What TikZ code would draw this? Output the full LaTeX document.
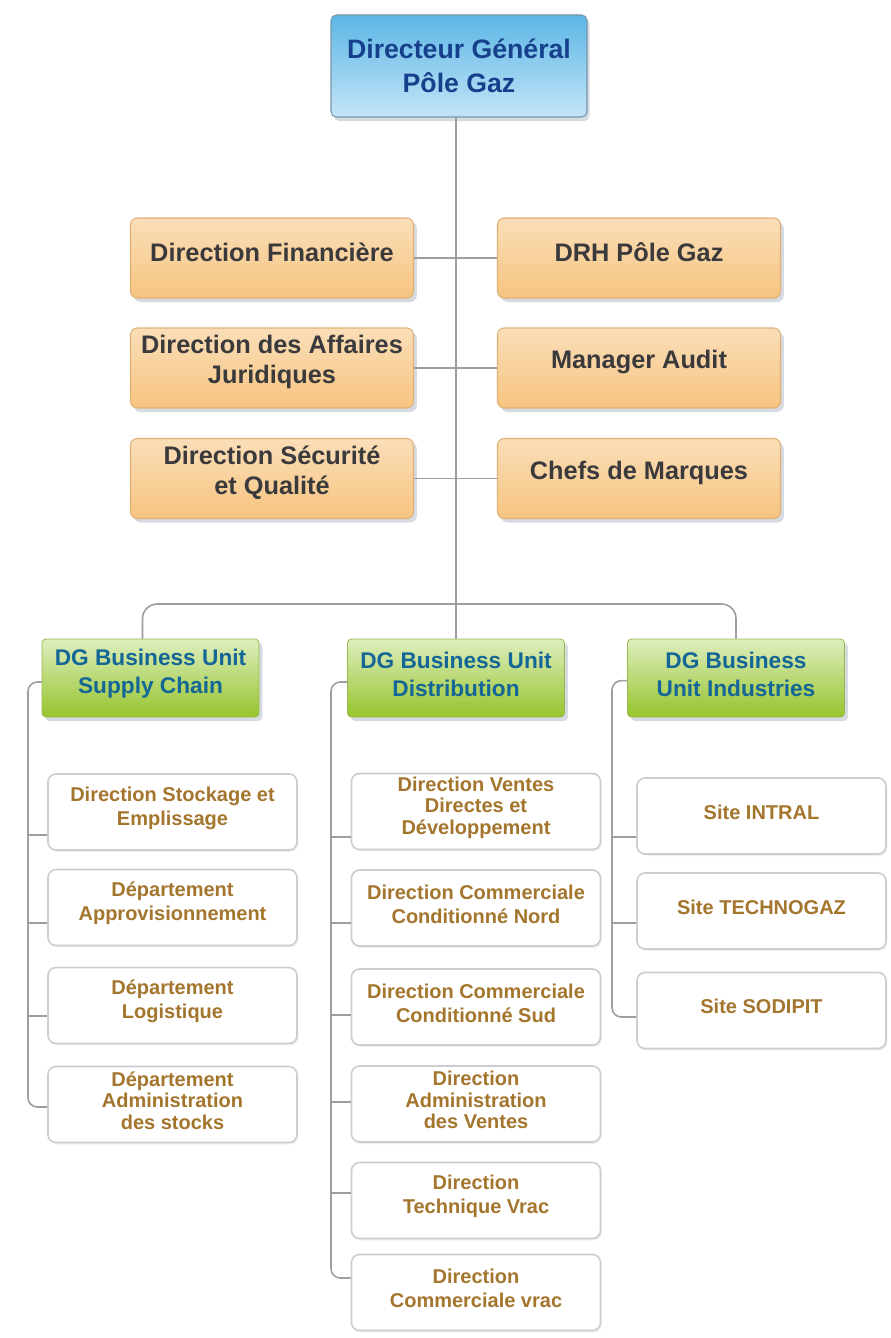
\documentclass[tikz,border=0pt]{standalone}
\usepackage{fontspec}
\setmainfont{Liberation Sans}
\usetikzlibrary{shadows}
\definecolor{dgtop}{RGB}{92,182,230}
\definecolor{dgbot}{RGB}{196,229,247}
\definecolor{dgborder}{RGB}{120,150,172}
\definecolor{dgtext}{RGB}{22,64,140}
\definecolor{ortop}{RGB}{250,222,184}
\definecolor{ormid}{RGB}{253,236,212}
\definecolor{orbot}{RGB}{247,196,128}
\definecolor{orborder}{RGB}{222,178,118}
\definecolor{ortext}{RGB}{58,58,60}
\definecolor{grtop}{RGB}{222,238,190}
\definecolor{grmid}{RGB}{180,214,96}
\definecolor{grbot}{RGB}{150,196,44}
\definecolor{grborder}{RGB}{150,185,80}
\definecolor{grtext}{RGB}{20,102,150}
\definecolor{subborder}{RGB}{205,205,208}
\definecolor{subtext}{RGB}{164,117,45}
\definecolor{lin}{RGB}{158,158,162}
\definecolor{shad}{RGB}{120,135,160}
\newcommand{\orgbox}[5]{\node[#2box] (#1) at (#3,#4) {};\node[#2txt] (#1-t) at (#1.center) {#5};}
\begin{document}
\begin{tikzpicture}[x=0.75pt,y=-0.75pt,
  dgbox/.style={draw=dgborder, line width=0.8pt, rounded corners=4pt,
    top color=dgtop, bottom color=dgbot, minimum width=256*0.75pt, minimum height=102*0.75pt,
    drop shadow={shadow xshift=2pt, shadow yshift=-3pt, opacity=0.3, fill=shad}},
  dgtxt/.style={text=dgtext, font=\fontsize{20}{26}\selectfont\bfseries, align=center},
  orbox/.style={draw=orborder, line width=0.8pt, rounded corners=5pt,
    top color=ortop, middle color=ormid, bottom color=orbot, minimum width=283*0.75pt, minimum height=80*0.75pt,
    drop shadow={shadow xshift=2.5pt, shadow yshift=-3pt, opacity=0.3, fill=shad}},
  ortxt/.style={text=ortext, font=\fontsize{19}{22.5}\selectfont\bfseries, align=center, yshift=4.5pt},
  grbox/.style={draw=grborder, line width=0.6pt, rounded corners=3pt,
    top color=grtop, middle color=grmid, bottom color=grbot, minimum width=217*0.75pt, minimum height=78*0.75pt,
    drop shadow={shadow xshift=2.5pt, shadow yshift=-3pt, opacity=0.3, fill=shad}},
  grtxt/.style={text=grtext, font=\fontsize{17}{21}\selectfont\bfseries, align=center, yshift=3pt},
  subbox/.style={draw=subborder, line width=1.2pt, rounded corners=6pt, fill=white,
    minimum width=249*0.75pt, minimum height=76*0.75pt,
    drop shadow={shadow xshift=1pt, shadow yshift=-1.5pt, opacity=0.12, fill=shad}},
  subtxt/.style={text=subtext, font=\fontsize{15}{18}\selectfont\bfseries, align=center, yshift=3pt},
  conn/.style={draw=lin, line width=1.2pt}
]
\useasboundingbox (0,0) rectangle (890,1338);

% top
\orgbox{dg}{dg}{459}{66}{Directeur Général\\Pôle Gaz}

% staff
\orgbox{fin}{or}{272}{258}{Direction Financière}
\orgbox{drh}{or}{639}{258}{DRH Pôle Gaz}
\orgbox{jur}{or}{272}{368}{Direction des Affaires\\Juridiques}
\orgbox{aud}{or}{639}{368}{Manager Audit}
\orgbox{sec}{or}{272}{478.5}{Direction Sécurité\\et Qualité}
\orgbox{mar}{or}{639}{478.5}{Chefs de Marques}

% business units
\orgbox{sc}{gr}{150.5}{678}{DG Business Unit\\Supply Chain}
\orgbox{dist}{gr}{456}{678}{DG Business Unit\\Distribution}
\orgbox{ind}{gr}{736}{678}{DG Business\\Unit Industries}

% supply chain
\orgbox{s1}{sub}{172.5}{812}{Direction Stockage et\\Emplissage}
\orgbox{s2}{sub}{172.5}{907.5}{Département\\Approvisionnement}
\orgbox{s3}{sub}{172.5}{1005.5}{Département\\Logistique}
\orgbox{s4}{sub}{172.5}{1104.5}{Département\\[-2pt]Administration\\[-2pt]des stocks}

% distribution
\orgbox{m1}{sub}{476}{811.5}{Direction Ventes\\[-2pt]Directes et\\[-2pt]Développement}
\orgbox{m2}{sub}{476}{908}{Direction Commerciale\\Conditionné Nord}
\orgbox{m3}{sub}{476}{1007}{Direction Commerciale\\Conditionné Sud}
\orgbox{m4}{sub}{476}{1104}{Direction\\[-2pt]Administration\\[-2pt]des Ventes}
\orgbox{m5}{sub}{476}{1200.5}{Direction\\Technique Vrac}
\orgbox{m6}{sub}{476}{1292.5}{Direction\\Commerciale vrac}

% industries
\orgbox{r1}{sub}{761.5}{816}{Site INTRAL}
\orgbox{r2}{sub}{761.5}{911}{Site TECHNOGAZ}
\orgbox{r3}{sub}{761.5}{1010.5}{Site SODIPIT}

% connectors
\draw[conn] (dist.north |- dg.south) -- (dist.north);
\draw[conn] (fin.east) -- (drh.west);
\draw[conn] (jur.east) -- (aud.west);
\draw[conn] (sec.east) -- (mar.west);
\coordinate (bar) at (456,604);
\draw[conn, rounded corners=11pt] ([xshift=-6pt]sc.north) |- (bar) -| (ind.north);

\coordinate (L1) at (28,835);
\coordinate (L2) at (28,923);
\coordinate (L3) at (28,1016);
\coordinate (L4) at (28,1107);
\draw[conn, rounded corners=7pt] ([yshift=-3pt]sc.west) -| (L4) -- (L4 -| s4.west);
\foreach \i in {1,2,3} {\draw[conn] (L\i) -- (L\i -| s\i.west);}

\coordinate (M1) at (331,837);
\coordinate (M2) at (331,923);
\coordinate (M3) at (331,1015);
\coordinate (M4) at (331,1102);
\coordinate (M5) at (331,1193);
\coordinate (M6) at (331,1278);
\draw[conn, rounded corners=7pt] ([yshift=-3pt]dist.west) -| (M6) -- (M6 -| m6.west);
\foreach \i in {1,...,5} {\draw[conn] (M\i) -- (M\i -| m\i.west);}

\coordinate (R1) at (612,837);
\coordinate (R2) at (612,923);
\coordinate (R3) at (612,1017);
\draw[conn, rounded corners=7pt] ([yshift=-2pt]ind.west) -| (R3) -- (R3 -| r3.west);
\foreach \i in {1,2} {\draw[conn] (R\i) -- (R\i -| r\i.west);}
\end{tikzpicture}
\end{document}
